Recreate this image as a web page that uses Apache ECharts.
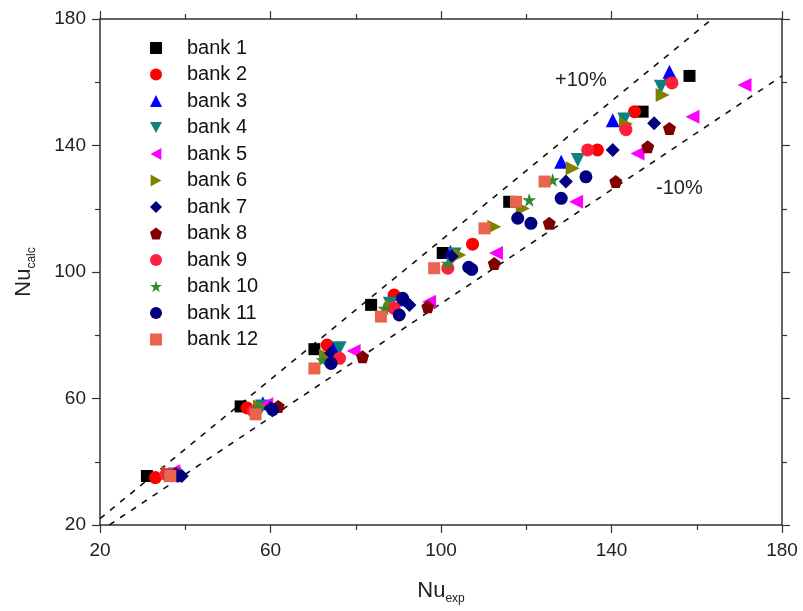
<!DOCTYPE html>
<html><head><meta charset="utf-8">
<script src="https://cdn.jsdelivr.net/npm/echarts@6/dist/echarts.min.js"></script>
<style>html,body{margin:0;padding:0;background:#fff}#c{width:803px;height:611px}</style>
</head><body><div id="c"></div>
<script>
const bankNames = ['bank 1','bank 2','bank 3','bank 4','bank 5','bank 6','bank 7','bank 8','bank 9','bank 10','bank 11','bank 12'];
const bank1 = [[31,35.5],[53,57.5],[70.3,75.6],[83.6,89.6],[100.4,106],[116,122.2],[147.3,150.7],[158.3,162]];
const bank2 = [[33,35],[54.5,57],[73.3,76.9],[89,92.7],[107.4,108.8],[136.7,138.6],[145.4,150.7],[153.8,160.5]];
const bank3 = [[38.5,36.8],[58.2,58.5],[74.8,75.8],[90.8,91.4],[102.2,106.3],[128.2,134.9],[140.3,148],[153.6,163.3]];
const bank4 = [[37.5,36],[58,57.5],[76.2,75.9],[88,90],[103.2,105.5],[132.1,135.4],[143,148.2],[151.6,158.6]];
const bank5 = [[37.2,37],[59,58.2],[79.5,75],[97.2,90.6],[112.9,106],[131.7,122.2],[146.1,137.5],[159,149.1],[171.2,159.1]];
const bank6 = [[36,36.5],[57.5,57.5],[73,73.5],[88.5,89],[104.3,105.4],[112.5,114.3],[119.2,120.1],[130.9,132.8],[143.4,146.8],[152,156]];
const bank7 = [[39.2,35.5],[60,57],[74.2,74.4],[92.6,89.6],[102.5,105],[129.3,128.6],[140.3,138.6],[150,147]];
const bank8 = [[37.8,36.3],[61.8,57.5],[81.6,73.2],[96.9,89],[112.5,102.7],[125.4,115.4],[141,128.6],[148.5,139.6],[153.6,145.4]];
const bank9 = [[35.5,36],[56,56],[76.2,72.7],[89,88.5],[101.6,101.2],[134.4,138.6],[143.4,145],[154.2,159.8]];
const bank10 = [[36,35.5],[57,57],[72.2,72.2],[86.7,88.5],[101.6,102.7],[120.7,122.8],[126.2,129.1]];
const bank11 = [[38.2,35.5],[60.5,56.5],[74.2,71.1],[90.2,86.4],[91,91.7],[106.5,101.5],[107.2,100.8],[118,117],[121.1,115.4],[128.2,123.3],[134,130.1]];
const bank12 = [[36.5,35.5],[56.5,55],[70.3,69.5],[85.9,85.9],[98.4,101.2],[110.2,113.8],[117.6,122.2],[124.3,128.6]];
const plus10 = [[20,22],[163.6,180]];
const minus10 = [[22.2,20],[180,162]];

const banks = [bank1,bank2,bank3,bank4,bank5,bank6,bank7,bank8,bank9,bank10,bank11,bank12];
const colors = ['#000000','#ff0000','#0000ff','#0e8080','#ff00ff','#808000','#000080','#800000','#ff1e3c','#2e8b2e','#000080','#e8644a'];
const starPath = 'path://M5,0 L6.2,3.6 L10,3.6 L6.9,5.8 L8.1,9.5 L5,7.2 L1.9,9.5 L3.1,5.8 L0,3.6 L3.8,3.6 Z';
const symbols = ['rect','circle','triangle','path://M0,0 L10,0 L5,9 Z','path://M9,0 L9,10 L0,5 Z','path://M0,0 L0,10 L9,5 Z','diamond','path://M5,0 L10,3.8 L8.1,10 L1.9,10 L0,3.8 Z','circle',starPath,'circle','rect'];
const sizes = [12,13,14,14,14,14,14,13,13,14,13,12];

const font = 'Liberation Sans, Arial, sans-serif';
const chart = echarts.init(document.getElementById('c'));
const series = banks.map((d,i)=>({
  name: bankNames[i], type:'scatter', data:d, symbol:symbols[i], symbolSize: sizes[i],
  itemStyle:{color:colors[i], opacity:1}, z: 3+i
}));
series.push({type:'line', data:plus10, symbol:'none', silent:true, lineStyle:{color:'#111', width:1.6, type:[6,7]}, z:2});
series.push({type:'line', data:minus10, symbol:'none', silent:true, lineStyle:{color:'#111', width:1.6, type:[6,7]}, z:2});

const axisCommon = {
  min:20, max:180, interval:40,
  axisLine:{lineStyle:{color:'#333', width:1.5}},
  axisTick:{length:8, lineStyle:{color:'#333', width:1.2}},
  minorTick:{show:true, splitNumber:2, length:5, lineStyle:{color:'#333', width:1.2}},
  splitLine:{show:false}
};
const nameRich = {a:{fontSize:22, color:'#222', fontFamily:font}, b:{fontSize:12, color:'#222', fontFamily:font, padding:[16,0,0,0]}};
chart.setOption({
  animation:false,
  backgroundColor:'#fff',
  grid:{left:100, right:21, top:19, bottom:86},
  legend:{
    data: bankNames, orient:'vertical', left:150, top:38, padding:0, itemWidth:12, itemHeight:12, itemGap:6.5,
    textStyle:{fontSize:20, color:'#111', fontFamily:font, padding:[0,0,0,20]}
  },
  xAxis:[
    Object.assign({}, axisCommon, {type:'value', position:'bottom',
      axisLabel:{fontSize:19, color:'#222', fontFamily:font, margin:16},
      name:'{a|Nu}{b|exp}', nameLocation:'middle', nameGap:52,
      nameTextStyle:{rich:nameRich}
    }),
    Object.assign({}, axisCommon, {type:'value', position:'top', axisLabel:{show:false}})
  ],
  yAxis:[
    Object.assign({}, axisCommon, {type:'value', position:'left',
      axisLabel:{fontSize:19, color:'#222', fontFamily:font, margin:14},
      name:'{a|Nu}{b|calc}', nameLocation:'middle', nameGap:62,
      nameTextStyle:{rich:nameRich}
    }),
    Object.assign({}, axisCommon, {type:'value', position:'right', axisLabel:{show:false}})
  ],
  graphic:[
    {type:'text', left:555, top:70, style:{text:'+10%', fontSize:20, fill:'#222', fontFamily:font}},
    {type:'text', left:656, top:178, style:{text:'-10%', fontSize:20, fill:'#222', fontFamily:font}}
  ],
  series: series
});
</script></body></html>
